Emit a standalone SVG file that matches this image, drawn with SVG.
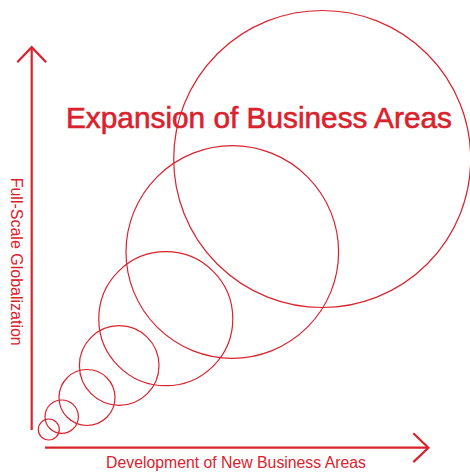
<svg xmlns="http://www.w3.org/2000/svg" width="470" height="473" viewBox="0 0 470 473">
  <style>
    .c { fill: none; stroke: #DA222C; stroke-width: 1.2; }
    .ax { fill: none; stroke: #DA222C; stroke-width: 2.2; stroke-linecap: butt; }
    .head { fill: none; stroke: #DA222C; stroke-width: 2.2; stroke-linejoin: miter; }
    .t { fill: #DA222C; font-family: "Liberation Sans", Arial, Helvetica, sans-serif; }
    .title { stroke: #DA222C; stroke-width: 0.6; }
  </style>
  <rect width="470" height="473" fill="#FFFFFF"/>
  <g id="circles">
    <g id="circle-1"><circle class="c" cx="48.8" cy="429.5" r="10.5"/></g>
    <g id="circle-2"><circle class="c" cx="61.7" cy="416.7" r="16.7"/></g>
    <g id="circle-3"><circle class="c" cx="87" cy="397.5" r="28"/></g>
    <g id="circle-4"><circle class="c" cx="119.2" cy="365.5" r="39.8"/></g>
    <g id="circle-5"><circle class="c" cx="165.8" cy="318.7" r="67"/></g>
    <g id="circle-6"><circle class="c" cx="232.3" cy="252" r="106.3"/></g>
    <g id="circle-7"><circle class="c" cx="322.2" cy="159" r="148.5"/></g>
  </g>
  <g id="connectors">
    <line class="ax" x1="31.7" y1="430" x2="31.7" y2="48"/>
    <polyline class="head" points="17.3,62.3 31.7,47.2 46.1,62.3"/>
    <line class="ax" x1="45" y1="447.7" x2="427" y2="447.7"/>
    <polyline class="head" points="413.3,433.3 428.4,447.7 413.3,462.1"/>
  </g>
  <g id="title">
    <text class="t title" x="66" y="128.3" font-size="29.8">Expansion of Business Areas</text>
  </g>
  <g id="y-axis-label">
    <text class="t" font-size="16" text-anchor="middle" transform="translate(10.5,261.7) rotate(90)">Full-Scale Globalization</text>
  </g>
  <g id="x-axis-label">
    <text class="t" x="236" y="467.7" font-size="15.8" text-anchor="middle">Development of New Business Areas</text>
  </g>
</svg>
